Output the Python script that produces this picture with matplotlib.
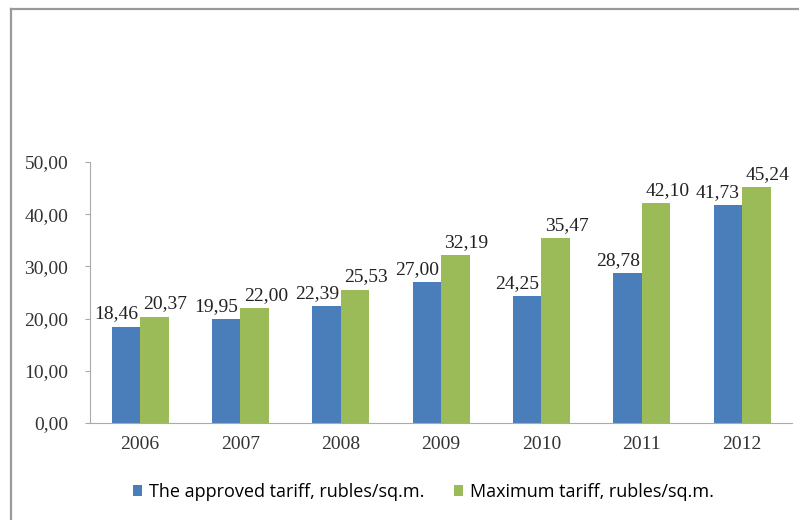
import numpy as np
import matplotlib.pyplot as plt
from matplotlib.lines import Line2D

# tariff data, rubles per square metre
years = ["2006", "2007", "2008", "2009", "2010", "2011", "2012"]
approved = [18.46, 19.95, 22.39, 27.00, 24.25, 28.78, 41.73]
maximum = [20.37, 22.00, 25.53, 32.19, 35.47, 42.10, 45.24]
legend_labels = ["The approved tariff, rubles/sq.m.", "Maximum tariff, rubles/sq.m."]

blue = "#4a7ebb"
green = "#9bbb59"


def fmt(v):
    return f"{v:.2f}".replace(".", ",")


fig = plt.figure(figsize=(7.99, 5.2), dpi=100)
ax = fig.add_axes([0.1126, 0.1865, 0.879, 0.502])

# outer frame of the chart area
fig.add_artist(Line2D([11 / 799, 11 / 799], [0, 1 - 9 / 520], transform=fig.transFigure,
                      color="#9a9a9a", lw=1.6))
fig.add_artist(Line2D([11 / 799, 1], [1 - 9 / 520, 1 - 9 / 520], transform=fig.transFigure,
                      color="#9a9a9a", lw=1.6))

x = np.arange(len(years))
w = 0.285
b1 = ax.bar(x - w / 2, approved, w, color=blue, label=legend_labels[0])
b2 = ax.bar(x + w / 2, maximum, w, color=green, label=legend_labels[1])

serif = "Liberation Serif"
for rect, v in zip(b1, approved):
    ax.annotate(fmt(v), (rect.get_x() + rect.get_width() / 2, v), xytext=(-7, 3),
                textcoords="offset points", ha="center", va="bottom",
                fontsize=14, family=serif, color="#222222")
for rect, v in zip(b2, maximum):
    ax.annotate(fmt(v), (rect.get_x() + rect.get_width() / 2, v), xytext=(8, 3),
                textcoords="offset points", ha="center", va="bottom",
                fontsize=14, family=serif, color="#222222")

ax.set_xlim(-0.5, len(years) - 0.5)
ax.set_ylim(0, 50)
ax.set_yticks(np.arange(0, 51, 10))
ax.set_yticklabels([fmt(t) for t in np.arange(0, 51, 10)], family=serif, fontsize=14, color="#333333")
ax.set_xticks(x)
ax.set_xticklabels(years, family=serif, fontsize=14, color="#333333")
ax.tick_params(axis="x", length=0, pad=9)
ax.tick_params(axis="y", length=3.6, color="#aaaaaa", pad=12)

for s in ["top", "right"]:
    ax.spines[s].set_visible(False)
ax.spines["left"].set_color("#aaaaaa")
ax.spines["bottom"].set_color("#aaaaaa")

fig.legend(handles=[b1, b2], loc="center", bbox_to_anchor=(0.53, 1 - 492 / 520), ncol=2,
           frameon=False, handlelength=0.5, handleheight=0.6,
           handletextpad=0.4, columnspacing=1.6, prop={"family": "Open Sans", "size": 13})

fig.savefig("out.png", dpi=100)
